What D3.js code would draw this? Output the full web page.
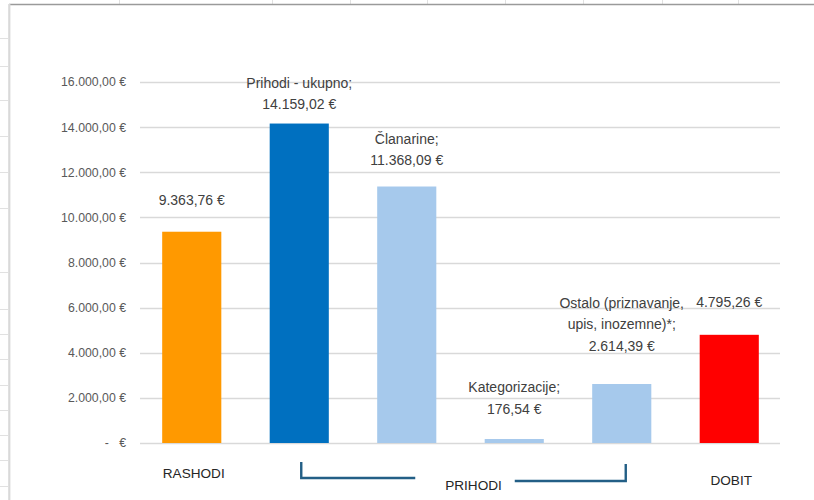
<!DOCTYPE html>
<html>
<head>
<meta charset="utf-8">
<script src="https://cdn.jsdelivr.net/npm/d3@7"></script>
<style>
  html, body { margin: 0; padding: 0; background: #fff; }
  svg { display: block; font-family: "Liberation Sans", Arial, sans-serif; }
</style>
</head>
<body>
<svg id="chart" width="814" height="500"></svg>
<script>
// ---- data ----
const categories = ["RASHODI", "Prihodi - ukupno", "Članarine", "Kategorizacije", "Ostalo", "DOBIT"];
const values = [9363.76, 14159.02, 11368.09, 176.54, 2614.39, 4795.26];
const barColors = ["#ff9900", "#0070c0", "#a6c9ec", "#a6c9ec", "#a6c9ec", "#ff0000"];
const labelNames = [[], ["Prihodi - ukupno;"], ["Članarine;"], ["Kategorizacije;"], ["Ostalo (priznavanje,", "upis, inozemne)*;"], []];
const axisLabels = ["RASHODI", "", "", "", "", "DOBIT"];
const groupLabel = "PRIHODI";
const yTicks = [0, 2000, 4000, 6000, 8000, 10000, 12000, 14000, 16000];

// layout (not data)
const labelGap = [32, 19, 26, 30, 38, 33];

const svg = d3.select("#chart");
const W = 814, H = 500;

// spreadsheet background stubs
const sheetRowsY = [38, 66, 100, 136, 172, 208, 272, 309, 334, 359, 385, 410, 435, 460, 486];
const sheetColsX = [119, 272, 350, 427, 505, 583, 662, 738];
svg.selectAll("line.row").data(sheetRowsY).join("line")
  .attr("x1", 0).attr("x2", 8).attr("y1", d => d + 0.5).attr("y2", d => d + 0.5)
  .attr("stroke", "#e1e1e1").attr("stroke-width", 1);
svg.selectAll("line.col").data(sheetColsX).join("line")
  .attr("x1", d => d + 0.5).attr("x2", d => d + 0.5).attr("y1", 0).attr("y2", 4)
  .attr("stroke", "#e1e1e1").attr("stroke-width", 1);

// chart border
svg.append("line").attr("x1", 9).attr("x2", W).attr("y1", 4.5).attr("y2", 4.5)
  .attr("stroke", "#9a9a9a").attr("stroke-width", 1.5);
svg.append("line").attr("x1", 9.3).attr("x2", 9.3).attr("y1", 4).attr("y2", H)
  .attr("stroke", "#d9d9d9").attr("stroke-width", 2.2);

// scales
const x = d3.scaleBand().domain(categories).range([138, 783]).paddingInner(0.45).paddingOuter(0.225);
const y = d3.scaleLinear().domain([0, 16000]).range([443, 82]);

const loc = d3.formatLocale({ decimal: ",", thousands: ".", grouping: [3], currency: ["", "\u00a0€"] });
const fmt = loc.format("$,.2f");
const tickFmt = d => d === 0 ? "-\u00a0\u00a0\u00a0€" : fmt(d);

// gridlines
const gridX0 = 140, gridX1 = 780;
svg.append("g").selectAll("line").data(yTicks).join("line")
  .attr("x1", gridX0).attr("x2", gridX1)
  .attr("y1", d => Math.round(y(d)) + 0.5).attr("y2", d => Math.round(y(d)) + 0.5)
  .attr("stroke", "#d9d9d9").attr("stroke-width", 1.3);

// y axis labels via d3 axis
const yAxis = d3.axisLeft(y).tickValues(yTicks).tickFormat(tickFmt).tickSize(0).tickPadding(0);
const gy = svg.append("g").attr("transform", "translate(126,0)").call(yAxis);
gy.select(".domain").remove();
gy.selectAll("text").attr("fill", "#595959").attr("font-size", "12.3px")
  .attr("font-family", "'Liberation Sans', Arial, sans-serif");

// bars
svg.append("g").selectAll("rect").data(values).join("rect")
  .attr("x", (d, i) => x(categories[i]))
  .attr("width", x.bandwidth())
  .attr("y", d => y(d))
  .attr("height", d => y(0) - y(d))
  .attr("fill", (d, i) => barColors[i]);

// data labels
const lh = 21.5;
const lg = svg.append("g").attr("fill", "#404040").attr("font-size", "14px").attr("text-anchor", "middle");
values.forEach((v, i) => {
  const lines = labelNames[i].concat([fmt(v)]);
  const cx = x(categories[i]) + x.bandwidth() / 2;
  const lastY = y(v) - labelGap[i];
  lines.forEach((t, j) => {
    lg.append("text")
      .attr("x", cx)
      .attr("y", lastY - (lines.length - 1 - j) * lh)
      .attr("dy", "0.35em")
      .text(t);
  });
});

// category labels
const cg = svg.append("g").attr("fill", "#262626").attr("font-size", "13.6px").attr("text-anchor", "middle");
cg.append("text").attr("x", x(categories[0]) + x.bandwidth() / 2 + 2).attr("y", 473).attr("dy", "0.35em").text(axisLabels[0]);
cg.append("text").attr("x", x(categories[5]) + x.bandwidth() / 2 + 2).attr("y", 480).attr("dy", "0.35em").text(axisLabels[5]);
const gL = x(categories[1]) + x.bandwidth() / 2 + 2;
const gR = x(categories[4]) + x.bandwidth() / 2 + 4;
cg.append("text").attr("x", (gL + gR) / 2 + 10).attr("y", 485).attr("dy", "0.35em").text(groupLabel);

// bracket
const br = svg.append("g").attr("fill", "none").attr("stroke", "#235f86").attr("stroke-width", 2.4);
br.append("path").attr("d", `M${gL},462 V478 H${gL + 114}`);
br.append("path").attr("d", `M${gR},464 V481 H${gR - 111}`);
</script>
</body>
</html>
